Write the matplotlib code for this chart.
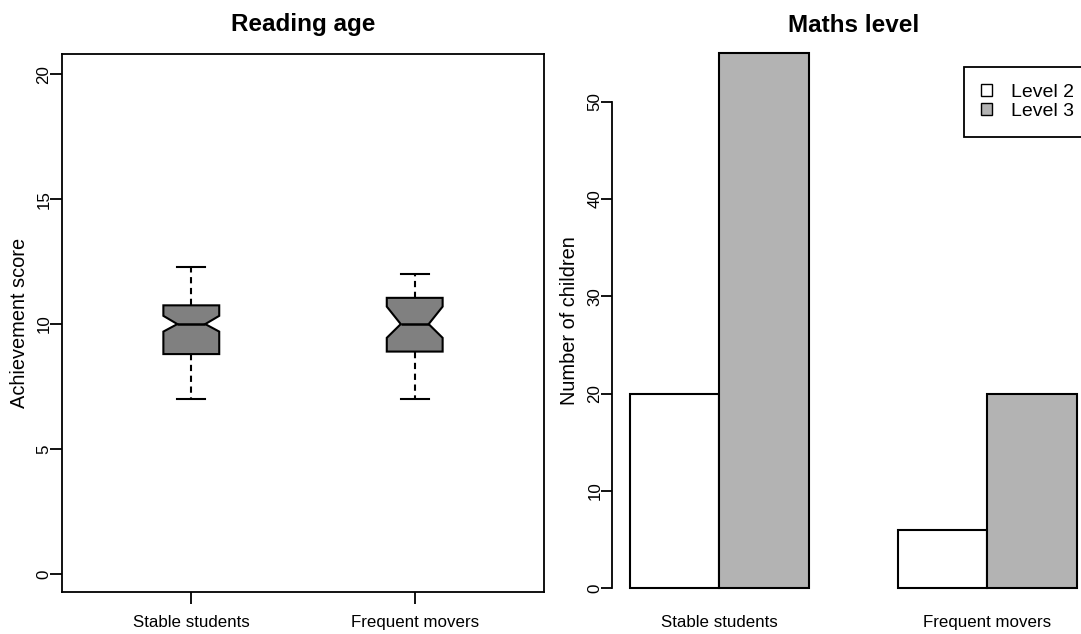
import matplotlib.pyplot as plt
from matplotlib.patches import Patch

plt.rcParams['font.family'] = ['Liberation Sans', 'DejaVu Sans']

# Groups shared by both panels
groups = ['Stable students', 'Frequent movers']

# Reading age: box plot statistics
whisker_low = [7.0, 7.0]
lower_quartile = [8.8, 8.9]
medians = [10.0, 10.0]
upper_quartile = [10.75, 11.05]
whisker_high = [12.3, 12.0]
notch_low = [9.7, 9.45]
notch_high = [10.33, 10.7]
reading_ticks = [0, 5, 10, 15, 20]

# Maths level: number of children per level
levels = ['Level 2', 'Level 3']
level2_counts = [20, 6]
level3_counts = [55, 20]
level_colors = ['white', '#B3B3B3']
maths_ticks = [0, 10, 20, 30, 40, 50]


def main():
    fig = plt.figure(figsize=(10.81, 6.34), dpi=100)

    # Left panel: notched box plots
    ax1 = fig.add_axes([0.0571, 0.0655, 0.4464, 0.8494])
    stats = []
    for i in range(len(groups)):
        stats.append({'med': medians[i], 'q1': lower_quartile[i],
                      'q3': upper_quartile[i], 'whislo': whisker_low[i],
                      'whishi': whisker_high[i], 'cilo': notch_low[i],
                      'cihi': notch_high[i], 'fliers': []})
    ax1.bxp(stats, positions=[1, 2], widths=0.25, shownotches=True,
            patch_artist=True, showfliers=False,
            boxprops={'facecolor': '#808080', 'edgecolor': 'black',
                      'linewidth': 1.5},
            medianprops={'color': 'black', 'linewidth': 1.8},
            whiskerprops={'color': 'black', 'linewidth': 1.5,
                          'linestyle': (0, (3, 2.2))},
            capprops={'color': 'black', 'linewidth': 1.5})
    ax1.set_xlim(0.42, 2.58)
    ax1.set_ylim(-0.74, 20.81)
    ax1.set_xticks([1, 2], groups)
    ax1.set_yticks(reading_ticks, [str(t) for t in reading_ticks],
                   rotation=90, va='center')
    ax1.tick_params(axis='both', direction='out', length=8.3, width=1.3,
                    labelsize=12.2)
    ax1.tick_params(axis='x', pad=8)
    ax1.tick_params(axis='y', pad=-1)
    for side in ax1.spines.values():
        side.set_linewidth(1.3)
    ax1.set_title('Reading age', fontsize=17.5, fontweight='bold',
                  pad=16.3, y=1.0)
    ax1.set_ylabel('Achievement score', fontsize=14.4)
    ax1.yaxis.set_label_coords(-0.068, 0.5)

    # Right panel: grouped bar chart
    ax2 = fig.add_axes([0.5664, 0.0383, 0.4461, 0.9118])
    for k, counts in enumerate([level2_counts, level3_counts]):
        lefts = [1 + 3 * g + k for g in range(len(groups))]
        ax2.bar(lefts, counts, width=1, align='edge',
                color=level_colors[k], edgecolor='black', linewidth=1.5,
                label=levels[k])
    ax2.set_xlim(0.8, 6.2)
    ax2.set_ylim(-2.2, 57.2)
    ax2.set_xticks([2 + 3 * g for g in range(len(groups))], groups)
    ax2.set_yticks(maths_ticks, [str(t) for t in maths_ticks],
                   rotation=90, va='center')
    ax2.tick_params(axis='y', direction='out', length=8, width=1.3,
                    labelsize=12.2, pad=-1)
    ax2.tick_params(axis='x', length=0, labelsize=12.2, pad=4)
    for name in ['top', 'right', 'bottom']:
        ax2.spines[name].set_visible(False)
    ax2.spines['left'].set_bounds(0, 50)
    ax2.spines['left'].set_linewidth(1.3)
    ax2.set_title('Maths level', fontsize=17.5, fontweight='bold',
                  pad=0, y=1.0)
    ax2.set_ylabel('Number of children', fontsize=14.4)
    ax2.yaxis.set_label_coords(-0.069, 0.5)

    handles = [Patch(facecolor=c, edgecolor='black', linewidth=1)
               for c in level_colors]
    leg = ax2.legend(handles, levels, loc='upper left',
                     bbox_to_anchor=(964 / 1081, 1 - 66.7 / 634),
                     bbox_transform=fig.transFigure, borderaxespad=0,
                     fancybox=False, edgecolor='black', framealpha=1,
                     fontsize=14, handlelength=0.55, handleheight=0.55,
                     handletextpad=1.0, borderpad=0.87, labelspacing=0.12)
    leg.get_frame().set_linewidth(1.3)

    fig.savefig('out.png', dpi=100)


main()
